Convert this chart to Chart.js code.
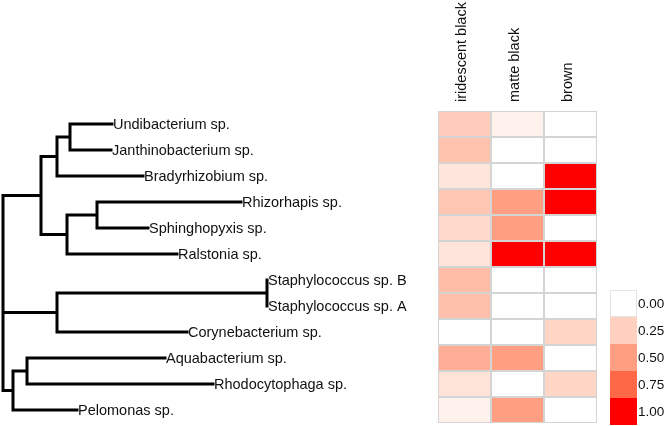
<!DOCTYPE html>
<html>
<head>
<meta charset="utf-8">
<script src="https://cdn.jsdelivr.net/npm/chart.js@4.4.0/dist/chart.umd.min.js"></script>
<style>
  html, body { margin: 0; padding: 0; background: #ffffff; }
  canvas { display: block; }
</style>
</head>
<body>
<canvas id="c" width="664" height="426"></canvas>
<script>
// ---------------- DATA ----------------
const species = [
  'Undibacterium sp.', 'Janthinobacterium sp.', 'Bradyrhizobium sp.',
  'Rhizorhapis sp.', 'Sphinghopyxis sp.', 'Ralstonia sp.',
  'Staphylococcus sp. B', 'Staphylococcus sp. A', 'Corynebacterium sp.',
  'Aquabacterium sp.', 'Rhodocytophaga sp.', 'Pelomonas sp.'
];
// distance of each leaf tip from the root (tree units)
const leafDepth = [1.09, 1.08, 1.40, 2.38, 1.45, 1.74, 2.64, 2.64, 1.84, 1.62, 2.10, 0.74];
// internal nodes: [id, children, distance from root]
const clusters = [
  ['n1', ['Undibacterium sp.', 'Janthinobacterium sp.'], 0.67],
  ['n2', ['n1', 'Bradyrhizobium sp.'], 0.54],
  ['n3', ['Rhizorhapis sp.', 'Sphinghopyxis sp.'], 0.94],
  ['n4', ['n3', 'Ralstonia sp.'], 0.64],
  ['n5', ['n2', 'n4'], 0.38],
  ['n6', ['Staphylococcus sp. B', 'Staphylococcus sp. A'], 2.64],
  ['n7', ['n6', 'Corynebacterium sp.'], 0.54],
  ['n8', ['Aquabacterium sp.', 'Rhodocytophaga sp.'], 0.24],
  ['n9', ['n8', 'Pelomonas sp.'], 0.10],
  ['root', ['n5', 'n7', 'n9'], 0.00]
];
const colorTypes = ['iridescent black', 'matte black', 'brown'];
const iridescentBlack = [0.27, 0.32, 0.13, 0.30, 0.20, 0.14, 0.35, 0.33, 0.00, 0.42, 0.15, 0.07];
const matteBlack      = [0.07, 0.00, 0.00, 0.50, 0.50, 1.00, 0.00, 0.00, 0.00, 0.50, 0.00, 0.50];
const brown           = [0.00, 0.00, 1.00, 1.00, 0.00, 1.00, 0.00, 0.00, 0.22, 0.00, 0.22, 0.00];
const legendTicks = [0.00, 0.25, 0.50, 0.75, 1.00];

// ---------------- COLOUR SCALE (Lab interpolation white -> red) ----------------
function toLin(c) { c /= 255; return c <= 0.04045 ? c / 12.92 : Math.pow((c + 0.055) / 1.055, 2.4); }
function toSrgb(c) { c = Math.max(0, Math.min(1, c)); return Math.round(255 * (c <= 0.0031308 ? 12.92 * c : 1.055 * Math.pow(c, 1 / 2.4) - 0.055)); }
function rgb2lab(r, g, b) {
  const R = toLin(r), G = toLin(g), B = toLin(b);
  let X = (0.4124 * R + 0.3576 * G + 0.1805 * B) / 0.95047;
  let Y = (0.2126 * R + 0.7152 * G + 0.0722 * B);
  let Z = (0.0193 * R + 0.1192 * G + 0.9505 * B) / 1.08883;
  const f = t => t > 0.008856 ? Math.cbrt(t) : 7.787 * t + 16 / 116;
  const fx = f(X), fy = f(Y), fz = f(Z);
  return [116 * fy - 16, 500 * (fx - fy), 200 * (fy - fz)];
}
function lab2rgb(L, a, b) {
  const fy = (L + 16) / 116, fx = fy + a / 500, fz = fy - b / 200;
  const fi = t => t > 0.206893 ? t * t * t : (t - 16 / 116) / 7.787;
  const X = 0.95047 * fi(fx), Y = fi(fy), Z = 1.08883 * fi(fz);
  const R = 3.2406 * X - 1.5372 * Y - 0.4986 * Z;
  const G = -0.9689 * X + 1.8758 * Y + 0.0415 * Z;
  const B = 0.0557 * X - 0.2040 * Y + 1.0570 * Z;
  return [toSrgb(R), toSrgb(G), toSrgb(B)];
}
const LOW = rgb2lab(255, 255, 255), HIGH = rgb2lab(255, 0, 0);
function fillFor(v) {
  const L = LOW.map((l, i) => l + (HIGH[i] - l) * v);
  const c = lab2rgb(L[0], L[1], L[2]);
  return `rgb(${c[0]},${c[1]},${c[2]})`;
}

// ---------------- TREE GEOMETRY (in data units) ----------------
const posY = {}, posD = {};
species.forEach((s, i) => { posY[s] = i; posD[s] = leafDepth[i]; });
const treePoints = [];
clusters.forEach(([id, kids, d]) => {
  const ys = kids.map(k => posY[k]);
  posY[id] = (ys[0] + ys[ys.length - 1]) / 2;
  posD[id] = d;
  const first = kids[0], last = kids[kids.length - 1];
  treePoints.push({ x: posD[first], y: posY[first] }, { x: d, y: posY[first] },
                  { x: d, y: posY[last] }, { x: posD[last], y: posY[last] }, { x: null, y: null });
  kids.slice(1, -1).forEach(k => {
    treePoints.push({ x: d, y: posY[k] }, { x: posD[k], y: posY[k] }, { x: null, y: null });
  });
});

const seriesValues = [iridescentBlack, matteBlack, brown];
const heatDatasets = seriesValues.map((vals, ci) => ({
  type: 'bar',
  label: colorTypes[ci],
  indexAxis: 'y',
  xAxisID: 'xh',
  yAxisID: 'y',
  grouped: false,
  data: vals.map((v, ri) => ({ y: ri, x: [ci, ci + 1], v: v })),
  backgroundColor: vals.map(v => fillFor(v)),
  borderColor: '#d4d4d4',
  borderWidth: 1,
  borderSkipped: false,
  inflateAmount: 0,
  barPercentage: 1,
  categoryPercentage: 1
}));

const FONT = '"Liberation Sans", Arial, sans-serif';

const textPlugin = {
  id: 'texts',
  afterDatasetsDraw(chart) {
    const ctx = chart.ctx;
    const sx = chart.scales.x, sy = chart.scales.y, sh = chart.scales.xh;
    ctx.save();
    ctx.fillStyle = '#111111';
    ctx.font = '14.5px ' + FONT;
    ctx.textBaseline = 'middle';
    ctx.textAlign = 'left';
    species.forEach((s, i) => {
      ctx.fillText(s, sx.getPixelForValue(leafDepth[i]) + 1, sy.getPixelForValue(i) + 1);
    });
    // column headers
    const topY = sy.getPixelForValue(-0.5);
    colorTypes.forEach((c, ci) => {
      const cx = sh.getPixelForValue(ci + 0.5);
      ctx.save();
      ctx.translate(cx - 3, topY - 9);
      ctx.rotate(-Math.PI / 2);
      ctx.fillText(c, 0, 0);
      ctx.restore();
    });
    // legend (colour key)
    const lx = 610, lw = 27, lh = 27, ly = 290;
    legendTicks.forEach((t, k) => {
      const y0 = ly + k * lh;
      ctx.fillStyle = fillFor(t);
      ctx.fillRect(lx, y0, lw, lh);
      ctx.fillStyle = '#111111';
      ctx.font = '13.5px ' + FONT;
      ctx.fillText(t.toFixed(2), lx + lw + 1, y0 + lh / 2 + 1);
    });
    ctx.strokeStyle = '#e4e4e4';
    ctx.lineWidth = 1;
    ctx.strokeRect(lx + 0.5, ly + 0.5, lw - 1, lh - 1);
    ctx.restore();
  }
};

new Chart(document.getElementById('c'), {
  data: {
    datasets: [
      {
        type: 'line',
        label: 'tree',
        data: treePoints,
        xAxisID: 'x',
        yAxisID: 'y',
        borderColor: '#000000',
        borderWidth: 3,
        borderCapStyle: 'square',
        borderJoinStyle: 'miter',
        pointRadius: 0,
        tension: 0,
        fill: false,
        spanGaps: false
      },
      ...heatDatasets
    ]
  },
  options: {
    responsive: false,
    animation: false,
    layout: { padding: 0 },
    plugins: { legend: { display: false }, tooltip: { enabled: false } },
    scales: {
      x: { type: 'linear', display: false, min: -0.03, max: 6.61, offset: false },
      xh: { type: 'linear', display: false, min: -8.264, max: 4.264, offset: false },
      y: {
        type: 'linear', display: false, reverse: true, min: -4.769, max: 11.615, offset: false,
        afterBuildTicks: (scale) => { scale.ticks = species.map((_, i) => ({ value: i })); }
      }
    }
  },
  plugins: [textPlugin]
});
</script>
</body>
</html>
